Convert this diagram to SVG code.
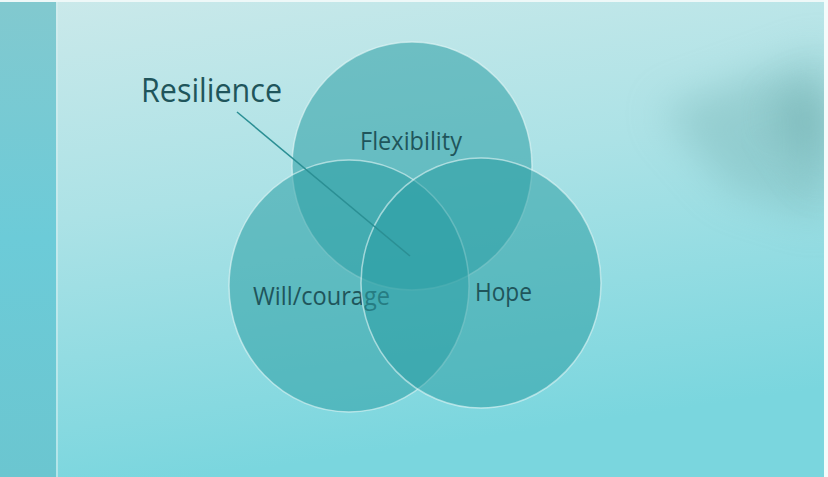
<svg xmlns="http://www.w3.org/2000/svg" width="828" height="477" viewBox="0 0 828 477">
<defs>
<linearGradient id="bg" x1="0" y1="0" x2="0.25" y2="1">
<stop offset="0" stop-color="#cbe9ea"/>
<stop offset="0.45" stop-color="#ace2e6"/>
<stop offset="1" stop-color="#7ad6de"/>
</linearGradient>
<linearGradient id="strip" x1="0" y1="0" x2="0" y2="1">
<stop offset="0" stop-color="#82c9cf"/>
<stop offset="0.5" stop-color="#6ccbd8"/>
<stop offset="1" stop-color="#6bc6d0"/>
</linearGradient>
<filter id="blur" x="-50%" y="-50%" width="200%" height="200%"><feGaussianBlur stdDeviation="20"/></filter>
<style>
.c{fill:#2c9fa4;fill-opacity:0.55;stroke:#e4f7f7;stroke-opacity:0.6;stroke-width:1.5}
.t{font-family:"Open Sans","Liberation Sans",sans-serif;fill:#1f555b;font-weight:500}
</style>
</defs>
<rect width="828" height="477" fill="url(#bg)"/>
<path d="M660 110 L828 50 L828 220 L730 190 Z" fill="#7db9ba" opacity="0.5" filter="url(#blur)"/>
<path d="M770 110 L828 80 L828 190 Z" fill="#6aa9a8" opacity="0.55" filter="url(#blur)"/>
<rect x="0" y="0" width="56" height="477" fill="url(#strip)"/>
<rect x="56" y="0" width="2" height="477" fill="#d6eff0" opacity="0.6"/>
<rect x="0" y="0" width="828" height="2" fill="#eef8f8"/>
<rect x="824" y="0" width="4" height="477" fill="#f4fbfb"/>
<g id="flexibility">
<ellipse class="c" cx="412" cy="166" rx="120" ry="124"/>
<text class="t" x="360" y="150" font-size="25" textLength="102" lengthAdjust="spacingAndGlyphs">Flexibility</text>
</g>
<g id="will-courage">
<ellipse class="c" cx="349" cy="286" rx="120" ry="126"/>
<text class="t" x="253" y="305" font-size="25" textLength="137" lengthAdjust="spacingAndGlyphs">Will/courage</text>
</g>
<g id="hope">
<ellipse class="c" cx="481" cy="283" rx="120" ry="125"/>
<text class="t" x="475" y="301" font-size="25" textLength="57" lengthAdjust="spacingAndGlyphs">Hope</text>
</g>
<g id="connectors">
<line x1="237" y1="112" x2="410" y2="256" stroke="#2b8f94" stroke-width="1.5"/>
</g>
<g id="resilience">
<text class="t" x="141" y="102" font-size="33" textLength="141" lengthAdjust="spacingAndGlyphs">Resilience</text>
</g>
</svg>
